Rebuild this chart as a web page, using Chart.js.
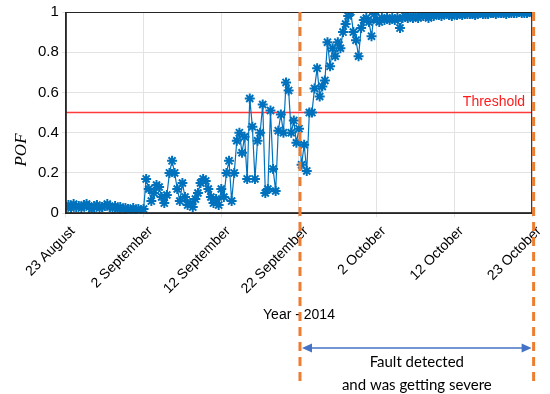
<!DOCTYPE html>
<html>
<head>
<meta charset="utf-8">
<script src="https://cdn.jsdelivr.net/npm/chart.js@4"></script>
<style>
  html, body { margin: 0; padding: 0; background: #fff; }
  #wrap { width: 550px; height: 394px; }
</style>
</head>
<body>
<div id="wrap"><canvas id="chart" width="550" height="394"></canvas></div>
<script>
// Tick labels on the date axis (one every 10 days)
const xTickLabels = ["23 August", "2 September", "12 September", "22 September", "2 October", "12 October", "23 October"];
const yTickLabels = ["0", "0.2", "0.4", "0.6", "0.8", "1"];

// POF values, 3 samples per day
const pof = [
  0.03, 0.04, 0.025,   0.045, 0.03, 0.035,  0.025, 0.04, 0.045,  0.03, 0.02, 0.035,
  0.04, 0.025, 0.03,   0.035, 0.045, 0.03,  0.025, 0.035, 0.02,  0.03, 0.02, 0.025,
  0.02, 0.01, 0.025,   0.015, 0.02, 0.01,
  0.02, 0.17, 0.12,    0.06, 0.1, 0.14,     0.13, 0.08, 0.05,    0.09, 0.2, 0.26,
  0.2, 0.12, 0.06,     0.15, 0.08, 0.04,    0.05, 0.03, 0.07,    0.1, 0.15, 0.17,
  0.16, 0.12, 0.08,    0.05, 0.07, 0.04,
  0.12, 0.08, 0.2,     0.26, 0.06, 0.2,     0.36, 0.4, 0.3,      0.38, 0.17, 0.57,
  0.43, 0.17, 0.36,    0.4, 0.54, 0.1,      0.12, 0.51, 0.22,    0.11, 0.41, 0.49,
  0.4, 0.65, 0.61,     0.4, 0.46, 0.35,
  0.42, 0.24, 0.34,    0.21, 0.5, 0.5,      0.62, 0.72, 0.58,    0.63, 0.66, 0.85,
  0.73, 0.82, 0.78,    0.85, 0.82, 0.9,     0.94, 0.98, 1.0,     0.9, 0.86, 0.78,
  0.92, 0.96, 0.97,    0.95, 0.88, 0.99,
  0.96, 0.95, 0.97,    0.96, 0.97, 0.96,    0.97, 0.96, 0.97,    0.92, 0.97, 0.98,
  0.97, 0.98, 0.97,    0.98, 0.97, 0.98,    0.98, 0.98, 0.97,    0.98, 0.98, 0.99,
  0.985, 0.98, 0.99,   0.99, 0.985, 0.98,
  0.99, 0.985, 0.99,   0.985, 0.99, 0.99,   0.99, 0.99, 0.985,   0.99, 0.995, 0.99,
  0.99, 0.99, 0.995,   0.995, 0.99, 0.995,  0.995, 0.995, 0.99,  0.995, 0.995, 0.995,
  0.995, 1.0, 0.995,   0.995, 0.995, 1.0,
  0.995
];

const samplesPerDay = 3;
const threshold = 0.5;
const faultStartDay = 30;
const faultEndDay = 60;

const pofPoints = pof.map((v, i) => ({ x: i / samplesPerDay, y: v }));

// Draws the annotations around the plot (box, labels, fault window)
const annotations = {
  id: "annotations",
  afterDraw(chart) {
    const { ctx, chartArea, scales } = chart;
    const x = scales.x;
    const y = scales.y;
    ctx.save();

    // box round the plot
    ctx.strokeStyle = "#262626";
    ctx.lineWidth = 1;
    ctx.strokeRect(chartArea.left + 0.5, chartArea.top + 0.5, chartArea.width - 1, chartArea.height - 1);

    // threshold label
    ctx.fillStyle = "#ff1a1a";
    ctx.font = "14px 'Liberation Sans', Arial, sans-serif";
    ctx.textAlign = "right";
    ctx.textBaseline = "alphabetic";
    ctx.fillText("Threshold", chartArea.right - 7, y.getPixelForValue(threshold) - 7);

    // y title
    ctx.save();
    ctx.translate(22, 150);
    ctx.rotate(-Math.PI / 2);
    ctx.fillStyle = "#000";
    ctx.font = "italic 17px 'Liberation Serif', 'Times New Roman', serif";
    ctx.textAlign = "center";
    ctx.textBaseline = "middle";
    ctx.fillText("POF", 0, 0);
    ctx.restore();

    // fault window dashed lines
    const xa = x.getPixelForValue(faultStartDay) + 1;
    const xb = x.getPixelForValue(faultEndDay) + 1.5;
    ctx.strokeStyle = "#ed7d31";
    ctx.lineWidth = 3;
    ctx.setLineDash([9, 6]);
    [xa, xb].forEach((px) => {
      ctx.beginPath();
      ctx.moveTo(px, chartArea.top);
      ctx.lineTo(px, 383);
      ctx.stroke();
    });
    ctx.setLineDash([]);

    // double arrow
    const ay = 348;
    const a0 = xa + 2;
    const a1 = xb - 2;
    ctx.strokeStyle = "#4472c4";
    ctx.fillStyle = "#4472c4";
    ctx.lineWidth = 1.5;
    ctx.beginPath();
    ctx.moveTo(a0 + 8, ay);
    ctx.lineTo(a1 - 8, ay);
    ctx.stroke();
    ctx.beginPath();
    ctx.moveTo(a0, ay);
    ctx.lineTo(a0 + 10, ay - 4.5);
    ctx.lineTo(a0 + 10, ay + 4.5);
    ctx.closePath();
    ctx.fill();
    ctx.beginPath();
    ctx.moveTo(a1, ay);
    ctx.lineTo(a1 - 10, ay - 4.5);
    ctx.lineTo(a1 - 10, ay + 4.5);
    ctx.closePath();
    ctx.fill();

    // fault text
    ctx.fillStyle = "#000";
    ctx.font = "15px Lato, 'Open Sans', sans-serif";
    ctx.textAlign = "center";
    ctx.textBaseline = "middle";
    const tx = (xa + xb) / 2;
    ctx.fillText("Fault detected", tx, 362);
    ctx.fillText("and was getting severe", tx, 385);

    ctx.restore();
  },
};

const ctx = document.querySelector("#chart").getContext("2d");
new Chart(ctx, {
  type: "line",
  data: {
    datasets: [
      {
        label: "Threshold",
        data: [{ x: 0, y: threshold }, { x: faultEndDay, y: threshold }],
        borderColor: "#ff3b3b",
        borderWidth: 1.5,
        pointRadius: 0,
        order: 2,
      },
      {
        label: "POF",
        data: pofPoints,
        borderColor: "#0072bd",
        borderWidth: 1.2,
        pointStyle: "star",
        pointRadius: 5,
        pointBorderWidth: 2,
        pointBorderColor: "#0072bd",
        pointBackgroundColor: "#0072bd",
        order: 1,
      },
    ],
  },
  options: {
    responsive: false,
    animation: false,
    layout: { padding: { left: 35, right: 12, top: 4, bottom: 70 } },
    plugins: { legend: { display: false }, tooltip: { enabled: false } },
    scales: {
      x: {
        type: "linear",
        min: 0,
        max: faultEndDay,
        ticks: {
          stepSize: 10,
          minRotation: 45,
          maxRotation: 45,
          color: "#000",
          font: { family: "'Liberation Sans', Arial, sans-serif", size: 14 },
          padding: 6,
          labelOffset: 7,
          callback: (v) => xTickLabels[v / 10],
        },
        grid: { color: "#e3e3e3", tickLength: 4, drawTicks: true },
        border: { color: "#262626" },
        title: {
          display: true,
          text: "Year - 2014",
          color: "#000",
          font: { family: "'Liberation Sans', Arial, sans-serif", size: 14 },
          padding: { top: 4, bottom: 0 },
        },
      },
      y: {
        min: 0,
        max: 1,
        ticks: {
          stepSize: 0.2,
          color: "#000",
          font: { family: "'Liberation Sans', Arial, sans-serif", size: 15 },
          callback: (v) => yTickLabels[Math.round(v * 5)],
        },
        grid: { color: "#e3e3e3", tickLength: 4 },
        border: { color: "#262626" },
      },
    },
  },
  plugins: [annotations],
});
</script>
</body>
</html>
